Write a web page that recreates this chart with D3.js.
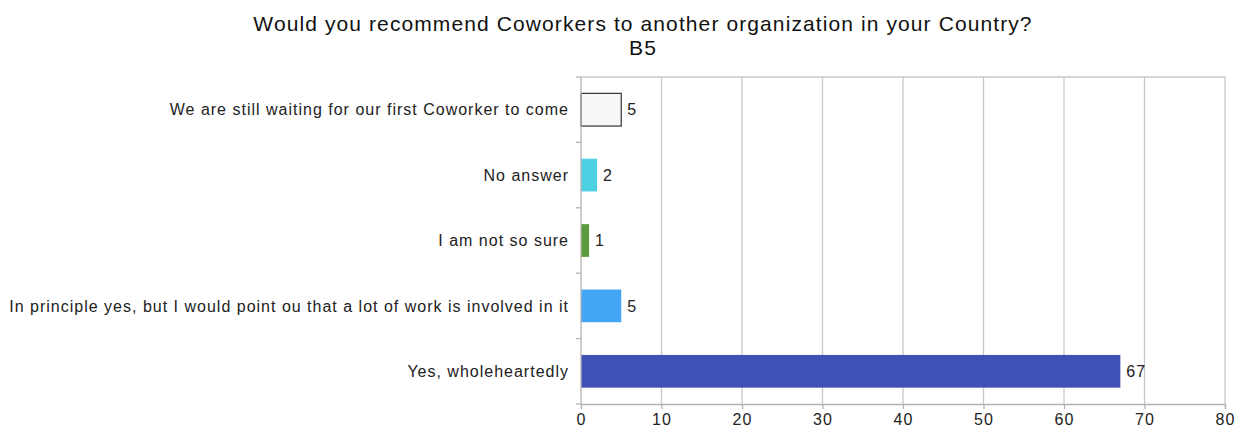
<!DOCTYPE html>
<html>
<head>
<meta charset="utf-8">
<script src="https://cdn.jsdelivr.net/npm/d3@7"></script>
<style>
  body { margin: 0; background: #fff; }
  svg { display: block; font-family: "Liberation Sans", Arial, sans-serif; }
</style>
</head>
<body>
<svg id="chart" width="1244" height="432"></svg>
<script>
// Survey answers, top to bottom
const categories = [
  "We are still waiting for our first Coworker to come",
  "No answer",
  "I am not so sure",
  "In principle yes, but I would point ou that a lot of work is involved in it",
  "Yes, wholeheartedly"
];
const counts = [5, 2, 1, 5, 67];
const barColors = ["#f7f7f7", "#4dd0e1", "#5a9a3a", "#42a5f5", "#3f51b5"];
const xTicks = [0, 10, 20, 30, 40, 50, 60, 70, 80];
const titleLines = ["Would you recommend Coworkers to another organization in your Country?", "B5"];

const svg = d3.select("#chart");
const m = { left: 581, right: 1225, top: 77, bottom: 404 };
const labelFont = 16;
const labelSpacing = 1;

const x = d3.scaleLinear().domain([0, 80]).range([m.left, m.right]);
const y = d3.scaleBand().domain(categories).range([m.top, m.bottom]).paddingInner(0.5).paddingOuter(0.25);
const band = d3.scaleBand().domain(categories).range([m.top, m.bottom]);

// Vertical grid lines
svg.append("g").selectAll("line").data(xTicks.slice(1)).join("line")
  .attr("x1", d => x(d)).attr("x2", d => x(d))
  .attr("y1", m.top).attr("y2", m.bottom)
  .attr("stroke", "#c8c8c8").attr("stroke-width", 1.3);

// Top frame line
svg.append("line")
  .attr("x1", m.left).attr("x2", m.right)
  .attr("y1", m.top).attr("y2", m.top)
  .attr("stroke", "#c8c8c8").attr("stroke-width", 1.3);

// Bars
svg.append("g").selectAll("rect").data(counts).join("rect")
  .attr("x", x(0))
  .attr("y", (d, i) => y(categories[i]))
  .attr("width", d => x(d) - x(0))
  .attr("height", y.bandwidth())
  .attr("fill", (d, i) => barColors[i])
  .attr("stroke", (d, i) => i === 0 ? "#333" : "none")
  .attr("stroke-width", 1.2);

// Value labels
svg.append("g").selectAll("text").data(counts).join("text")
  .attr("x", d => x(d) + 6)
  .attr("y", (d, i) => y(categories[i]) + y.bandwidth() / 2)
  .attr("dy", "0.35em")
  .attr("font-size", labelFont)
  .attr("letter-spacing", labelSpacing)
  .attr("fill", "#222")
  .text(d => d);

// Y axis line with ticks at band boundaries
const yAxisG = svg.append("g");
yAxisG.append("line")
  .attr("x1", m.left).attr("x2", m.left)
  .attr("y1", m.top).attr("y2", m.bottom)
  .attr("stroke", "#b3b3b3").attr("stroke-width", 1.3);
const boundaries = categories.map(c => band(c)).concat([m.bottom]);
yAxisG.selectAll("line.tick").data(boundaries).join("line")
  .attr("class", "tick")
  .attr("x1", m.left - 5).attr("x2", m.left)
  .attr("y1", d => d).attr("y2", d => d)
  .attr("stroke", "#b3b3b3").attr("stroke-width", 1.3);

// Category labels
svg.append("g").selectAll("text").data(categories).join("text")
  .attr("x", m.left - 12)
  .attr("y", d => band(d) + band.bandwidth() / 2)
  .attr("dy", "0.35em")
  .attr("text-anchor", "end")
  .attr("font-size", labelFont)
  .attr("letter-spacing", labelSpacing)
  .attr("fill", "#222")
  .text(d => d);

// X axis
const xAxis = d3.axisBottom(x).tickValues(xTicks).tickSize(5).tickPadding(5);
const xg = svg.append("g").attr("transform", `translate(0,${m.bottom})`).call(xAxis);
xg.select(".domain").attr("stroke", "#b3b3b3").attr("stroke-width", 1.3);
xg.selectAll(".tick line").attr("stroke", "#b3b3b3").attr("stroke-width", 1.3);
xg.selectAll(".tick text")
  .attr("font-size", labelFont)
  .attr("letter-spacing", labelSpacing)
  .attr("font-family", "Liberation Sans, Arial, sans-serif")
  .attr("fill", "#222");

// Title
svg.append("g").selectAll("text").data(titleLines).join("text")
  .attr("x", 643)
  .attr("y", (d, i) => 31 + i * 24)
  .attr("text-anchor", "middle")
  .attr("font-size", 21)
  .attr("letter-spacing", 1.1)
  .attr("fill", "#111")
  .text(d => d);
</script>
</body>
</html>
